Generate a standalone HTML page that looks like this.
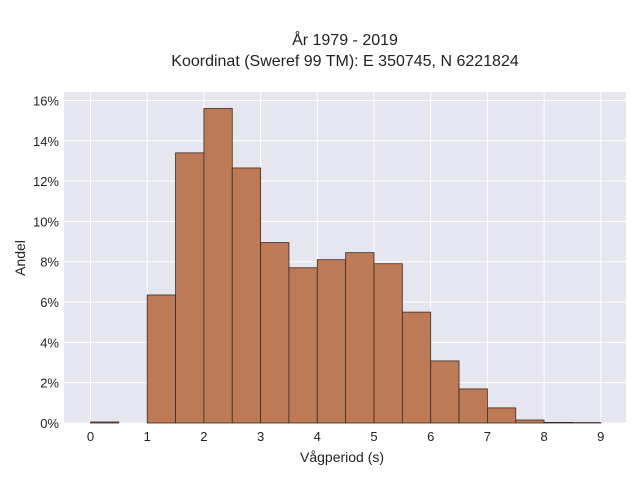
<!DOCTYPE html>
<html><head><meta charset="utf-8"><style>
body{margin:0;background:#fff;font-family:"Liberation Sans",sans-serif;}
svg text{font-family:"Liberation Sans",sans-serif;fill:#2a3f5f;}
</style></head><body>
<svg width="640" height="480" xmlns="http://www.w3.org/2000/svg">
<rect width="640" height="480" fill="#fff"/>
<text x="345" y="45" text-anchor="middle" font-size="16" fill="#222" style="fill:#222">År 1979 - 2019</text>
<text x="345" y="66" text-anchor="middle" font-size="16" style="fill:#222">Koordinat (Sweref 99 TM): E 350745, N 6221824</text>
<rect x="64" y="92" width="562" height="331" fill="#e5e6ef"/>
<g id="grid"></g>
<g id="bars"></g>
<g id="ticks"></g>
<text x="300" y="462" font-size="14" style="fill:#222">Vågperiod (s)</text>
<text transform="translate(25,258) rotate(-90)" text-anchor="middle" font-size="14" style="fill:#222">Andel</text>
</svg>
<script>
const binStarts=[0,0.5,1,1.5,2,2.5,3,3.5,4,4.5,5,5.5,6,6.5,7,7.5,8,8.5];
const values=[0.05,0,6.35,13.4,15.6,12.65,8.95,7.7,8.1,8.45,7.9,5.5,3.08,1.69,0.75,0.15,0.03,0.02];
const binWidth=0.5;
const xTicks=[0,1,2,3,4,5,6,7,8,9];
const yTicks=[0,2,4,6,8,10,12,14,16];
const NS="http://www.w3.org/2000/svg";
const X=v=>90.5+v*56.7;
const Y=v=>423-v*20.16;
const grid=document.getElementById('grid'),bars=document.getElementById('bars'),ticks=document.getElementById('ticks');
function mk(tag,attrs,parent){const e=document.createElementNS(NS,tag);for(const k in attrs)e.setAttribute(k,attrs[k]);parent.appendChild(e);return e;}
xTicks.forEach(t=>{
  const l=mk('line',{x1:X(t),x2:X(t),y1:92,y2:423,stroke:'#fff','stroke-width':1},grid);
  
  
  const tx=mk('text',{x:X(t),y:441,'text-anchor':'middle','font-size':13,style:'fill:#222'},ticks);
  tx.textContent=t;
  
  
});
yTicks.forEach(t=>{
  const l=mk('line',{x1:64,x2:626,y1:Y(t),y2:Y(t),stroke:'#fff','stroke-width':1},grid);
  
  
  const tx=mk('text',{x:59,y:Y(t)+5,'text-anchor':'end','font-size':13,style:'fill:#222'},ticks);
  tx.textContent=t+'%';
  
  
});
binStarts.forEach((s,i)=>{
  const v=values[i];
  if(v<=0)return;
  const r=mk('rect',{x:X(s),y:Y(v),width:X(s+binWidth)-X(s),height:Y(0)-Y(v),fill:'#bd7a56',stroke:'#3a2a20','stroke-width':0.8},bars);
  
  
});
</script>
</body></html>
